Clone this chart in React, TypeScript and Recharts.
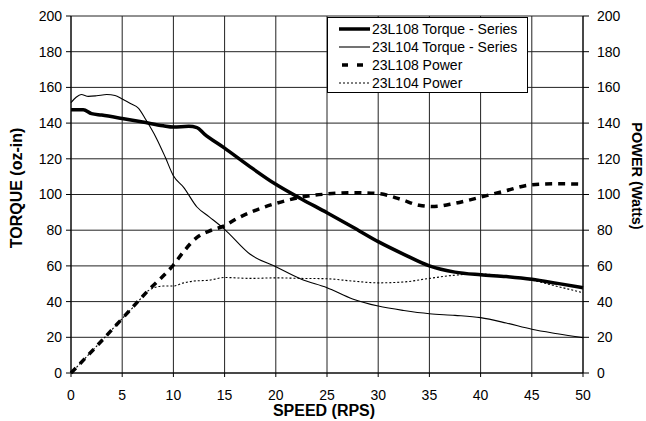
import React from 'react';
import { LineChart, Line, XAxis, YAxis, CartesianGrid, Legend, Label } from 'recharts';

// ---- data ----
const speedTicks = [0, 5, 10, 15, 20, 25, 30, 35, 40, 45, 50];
const valueTicks = [0, 20, 40, 60, 80, 100, 120, 140, 160, 180, 200];

const torque108Speed = [0, 1.2, 2, 3, 5, 7, 9, 10, 11.5, 12.3, 13, 15, 17.5, 20, 22.5, 25, 27.5, 30, 32.5, 35, 37.5, 40, 42.5, 45, 47.5, 50];
const torque108Value = [147.5, 147.5, 145.3, 144.5, 142.6, 140.6, 138.5, 137.8, 138.2, 137.5, 134, 126, 115.5, 105.7, 97.5, 89.8, 81.8, 73.6, 66.5, 60, 56.5, 55, 54, 52.5, 50.2, 47.8];

const torque104Speed = [0, 0.5, 1, 1.7, 2.5, 3.5, 4.3, 5, 5.8, 6.6, 7.3, 8.3, 9.2, 10, 11, 12.3, 13.5, 15, 17.5, 20, 22.5, 25, 27.5, 30, 32.5, 35, 37.5, 40, 42.5, 45, 47.5, 50];
const torque104Value = [151.5, 154.5, 156, 155, 155.3, 156, 155.5, 153.5, 151, 148.3, 142, 132, 121, 110.5, 104, 93, 87.5, 80.5, 66.5, 59.5, 52.5, 47.8, 41.5, 37.5, 35, 33.2, 32.3, 31, 28, 24.5, 22, 19.8];

const power108Speed = [0, 2.5, 5, 7.5, 10, 11, 12.3, 13.5, 15, 16.2, 17.5, 18.8, 20, 22.4, 25, 27.5, 30, 32.2, 34, 35.5, 37, 38.6, 40, 42.4, 45, 47.5, 50];
const power108Value = [0, 15, 30.5, 46, 60.5, 68, 76, 79.5, 82.5, 86.5, 90, 92.8, 95, 98.4, 100.3, 101, 100.5, 97.3, 94, 93.3, 94.5, 96.5, 98.5, 102, 105.5, 106, 105.8];

const power104Speed = [0, 2.5, 5, 6.5, 7.3, 8, 9, 10, 11, 12, 13.5, 15, 17.5, 20, 22.5, 25, 27.5, 30, 32.5, 35, 37.5, 40, 42.5, 45, 47.5, 50];
const power104Value = [0, 15, 30.5, 39.5, 45, 47.5, 48.7, 48.7, 50.5, 51.5, 52, 53.5, 53, 53.3, 53, 52.8, 51.5, 50.5, 51, 53, 54.8, 55.5, 54, 52, 48.5, 45];

const seriesNames = ['23L108 Torque - Series', '23L104 Torque - Series', '23L108 Power', '23L104 Power'];

const toPoints = (xs: number[], ys: number[]) => xs.map((x, i) => ({ x, y: ys[i] }));

const torque108Data = toPoints(torque108Speed, torque108Value);
const torque104Data = toPoints(torque104Speed, torque104Value);
const power108Data = toPoints(power108Speed, power108Value);
const power104Data = toPoints(power104Speed, power104Value);

const FONT = '"Liberation Sans", Arial, Helvetica, sans-serif';

const styles = [
  { strokeWidth: 3.5, dash: undefined as string | undefined },
  { strokeWidth: 1.1, dash: undefined as string | undefined },
  { strokeWidth: 3.5, dash: '7 6' },
  { strokeWidth: 1.1, dash: '2 2' },
];

const LegendBox = () => (
  <div
    style={{
      border: '1px solid #000',
      background: '#fff',
      width: 199,
      height: 72,
      boxSizing: 'content-box',
      fontFamily: FONT,
      fontSize: 14,
      color: '#000',
      paddingTop: 2,
    }}
  >
    {seriesNames.map((name, i) => (
      <div key={name} style={{ display: 'flex', alignItems: 'center', height: 18 }}>
        <svg width={44} height={18} style={{ flex: 'none' }}>
          <line
            x1={i === 2 ? 14 : 11}
            y1={9}
            x2={i === 2 ? 41 : 42}
            y2={9}
            stroke="#000"
            strokeWidth={styles[i].strokeWidth}
            strokeDasharray={i === 2 ? '6 9' : styles[i].dash}
          />
        </svg>
        <span style={{ whiteSpace: 'nowrap', lineHeight: '18px' }}>{name}</span>
      </div>
    ))}
  </div>
);

const LeftTitle = () => (
  <text
    x={16}
    y={188}
    transform="rotate(-90 16 188)"
    textAnchor="middle"
    dominantBaseline="central"
    fontFamily={FONT}
    fontWeight="bold"
    fontSize={16}
    fill="#000"
  >
    TORQUE (oz-in)
  </text>
);

const RightTitle = () => (
  <text
    x={637}
    y={176}
    transform="rotate(90 637 176)"
    textAnchor="middle"
    dominantBaseline="central"
    fontFamily={FONT}
    fontWeight="bold"
    fontSize={14.5}
    fill="#000"
  >
    POWER (Watts)
  </text>
);

const BottomTitle = () => (
  <text
    x={324}
    y={410}
    textAnchor="middle"
    dominantBaseline="central"
    fontFamily={FONT}
    fontWeight="bold"
    fontSize={16}
    fill="#000"
  >
    SPEED (RPS)
  </text>
);

const tickStyle = { fontFamily: FONT, fontSize: 14, fill: '#000' };

export default function App() {
  return (
    <div style={{ position: 'absolute', left: 0, top: 0, width: 646, height: 421, background: '#fff' }}>
      <LineChart width={646} height={421} margin={{ top: 16, right: 0, bottom: 0, left: 0 }}>
        <CartesianGrid yAxisId="left" stroke="#222" strokeWidth={1} />
        <XAxis
          type="number"
          dataKey="x"
          domain={[0, 50]}
          ticks={speedTicks}
          interval={0}
          height={48}
          stroke="#000"
          tickSize={4}
          tickMargin={13}
          tick={tickStyle}
          allowDuplicatedCategory={false}
        >
          <Label content={<BottomTitle />} />
        </XAxis>
        <YAxis
          yAxisId="left"
          type="number"
          domain={[0, 200]}
          ticks={valueTicks}
          interval={0}
          width={71}
          stroke="#000"
          tickSize={5}
          tickMargin={4}
          tick={tickStyle}
        >
          <Label content={<LeftTitle />} />
        </YAxis>
        <YAxis
          yAxisId="right"
          orientation="right"
          type="number"
          domain={[0, 200]}
          ticks={valueTicks}
          interval={0}
          width={63}
          stroke="#000"
          tickSize={6}
          tickMargin={8}
          tick={{ ...tickStyle, textAnchor: 'start' }}
        >
          <Label content={<RightTitle />} />
        </YAxis>
        <Legend
          layout="vertical"
          align="center"
          verticalAlign="middle"
          content={<LegendBox />}
          wrapperStyle={{ left: 327, top: 17, width: 201, height: 75 }}
        />
        <Line
          yAxisId="left"
          data={torque104Data}
          dataKey="y"
          name={seriesNames[1]}
          type="monotone"
          stroke="#000"
          strokeWidth={styles[1].strokeWidth}
          dot={false}
          activeDot={false}
          isAnimationActive={false}
        />
        <Line
          yAxisId="right"
          data={power104Data}
          dataKey="y"
          name={seriesNames[3]}
          type="monotone"
          stroke="#000"
          strokeWidth={styles[3].strokeWidth}
          strokeDasharray={styles[3].dash}
          dot={false}
          activeDot={false}
          isAnimationActive={false}
        />
        <Line
          yAxisId="right"
          data={power108Data}
          dataKey="y"
          name={seriesNames[2]}
          type="monotone"
          stroke="#000"
          strokeWidth={styles[2].strokeWidth}
          strokeDasharray={styles[2].dash}
          dot={false}
          activeDot={false}
          isAnimationActive={false}
        />
        <Line
          yAxisId="left"
          data={torque108Data}
          dataKey="y"
          name={seriesNames[0]}
          type="monotone"
          stroke="#000"
          strokeWidth={styles[0].strokeWidth}
          dot={false}
          activeDot={false}
          isAnimationActive={false}
        />
      </LineChart>
    </div>
  );
}
